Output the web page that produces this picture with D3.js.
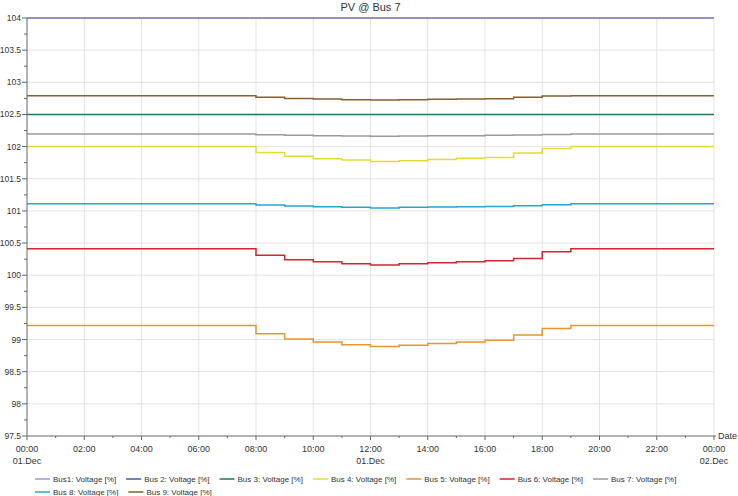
<!DOCTYPE html>
<html>
<head>
<meta charset="utf-8">
<script src="https://cdn.jsdelivr.net/npm/d3@7"></script>
<style>
  body { margin: 0; background: #fff; }
  text { font-family: "Liberation Sans", Arial, sans-serif; fill: #333; }
</style>
</head>
<body>
<svg id="chart" width="738" height="496"></svg>
<script>
// step times (hours after 01.Dec 00:00), value holds until next time
const stepHours = [0, 8, 9, 10, 11, 12, 13, 14, 15, 16, 17, 18, 19, 24]

const bus1 = [104, 104, 104, 104, 104, 104, 104, 104, 104, 104, 104, 104, 104, 104]
const bus2 = [104, 104, 104, 104, 104, 104, 104, 104, 104, 104, 104, 104, 104, 104]
const bus3 = [102.5, 102.5, 102.5, 102.5, 102.5, 102.5, 102.5, 102.5, 102.5, 102.5, 102.5, 102.5, 102.5, 102.5]
const bus4 = [102.0, 101.91, 101.85, 101.81, 101.79, 101.77, 101.78, 101.80, 101.82, 101.83, 101.90, 101.97, 102.0, 102.0]
const bus5 = [99.22, 99.09, 99.01, 98.96, 98.92, 98.89, 98.91, 98.94, 98.96, 98.99, 99.07, 99.17, 99.22, 99.22]
const bus6 = [100.41, 100.31, 100.24, 100.21, 100.18, 100.16, 100.18, 100.195, 100.21, 100.225, 100.26, 100.365, 100.41, 100.41]
const bus7 = [102.196, 102.185, 102.176, 102.17, 102.165, 102.16, 102.165, 102.17, 102.17, 102.176, 102.18, 102.19, 102.196, 102.196]
const bus8 = [101.112, 101.092, 101.076, 101.065, 101.056, 101.045, 101.056, 101.06, 101.065, 101.07, 101.08, 101.096, 101.112, 101.112]
const bus9 = [102.79, 102.767, 102.75, 102.74, 102.73, 102.725, 102.73, 102.735, 102.74, 102.745, 102.767, 102.787, 102.79, 102.79]

const seriesNames = ['Bus1: Voltage [%]', 'Bus 2: Voltage [%]', 'Bus 3: Voltage [%]', 'Bus 4: Voltage [%]',
  'Bus 5: Voltage [%]', 'Bus 6: Voltage [%]', 'Bus 7: Voltage [%]', 'Bus 8: Voltage [%]', 'Bus 9: Voltage [%]']
const seriesValues = [bus1, bus2, bus3, bus4, bus5, bus6, bus7, bus8, bus9]
const seriesColors = ['#a893d2', '#3b5aa6', '#1f7a4c', '#e4dc2e', '#e6952f', '#d2262f', '#9a9a9a', '#22a6d6', '#8c5d2e']

const yTicks = [97.5, 98, 98.5, 99, 99.5, 100, 100.5, 101, 101.5, 102, 102.5, 103, 103.5, 104]
const title = 'PV @ Bus 7'

const W = 738
const H = 496
const margin = { top: 18, right: 24, bottom: 60, left: 27 }
const svg = d3.select('#chart')

const t0 = Date.UTC(2023, 11, 1)
const hourToDate = (h) => new Date(t0 + h * 3600 * 1000)

const x = d3.scaleUtc()
  .domain([hourToDate(0), hourToDate(24)])
  .range([margin.left, W - margin.right])
const y = d3.scaleLinear()
  .domain([97.5, 104])
  .range([H - margin.bottom, margin.top])

const gridColor = '#e3e3e3'
const axisColor = '#666'

// grid
const xMajor = d3.range(0, 25, 2).map(hourToDate)
const xMinor = d3.range(1, 24, 2).map(hourToDate)
svg.append('g').selectAll('line').data(xMajor.slice(1)).join('line')
  .attr('x1', d => x(d)).attr('x2', d => x(d))
  .attr('y1', margin.top).attr('y2', H - margin.bottom)
  .attr('stroke', gridColor)
svg.append('g').selectAll('line').data(yTicks.slice(1)).join('line')
  .attr('x1', margin.left).attr('x2', W - margin.right)
  .attr('y1', d => y(d)).attr('y2', d => y(d))
  .attr('stroke', gridColor)

// lines
const line = d3.line()
  .x((d, i) => x(hourToDate(stepHours[i])))
  .y(d => y(d))
  .curve(d3.curveStepAfter)

// draw bus 2 under bus 1
const order = [1, 0, 2, 3, 4, 5, 6, 7, 8]
order.forEach(k => {
  svg.append('path')
    .attr('d', line(seriesValues[k]))
    .attr('fill', 'none')
    .attr('stroke', seriesColors[k])
    .attr('stroke-width', 1.5)
})

// y axis
const yAxis = svg.append('g')
  .attr('transform', `translate(${margin.left},0)`)
yAxis.append('line')
  .attr('x1', 0).attr('x2', 0)
  .attr('y1', margin.top).attr('y2', H - margin.bottom)
  .attr('stroke', axisColor)
yAxis.selectAll('.ymaj').data(yTicks).join('line')
  .attr('x1', -5).attr('x2', 0)
  .attr('y1', d => y(d)).attr('y2', d => y(d))
  .attr('stroke', axisColor)
yAxis.selectAll('.ymin').data(yTicks.slice(1).map(v => v - 0.25)).join('line')
  .attr('x1', -3).attr('x2', 0)
  .attr('y1', d => y(d)).attr('y2', d => y(d))
  .attr('stroke', axisColor)
yAxis.selectAll('text').data(yTicks).join('text')
  .attr('x', -6)
  .attr('y', d => y(d) + 3)
  .attr('text-anchor', 'end')
  .attr('font-size', 8.5)
  .text(d => d)

// x axis
const xAxisY = H - margin.bottom
const xAxis = svg.append('g')
xAxis.append('line')
  .attr('x1', margin.left).attr('x2', W - margin.right + 2)
  .attr('y1', xAxisY).attr('y2', xAxisY)
  .attr('stroke', axisColor)
xAxis.selectAll('.xmaj').data(xMajor).join('line')
  .attr('x1', d => x(d)).attr('x2', d => x(d))
  .attr('y1', xAxisY).attr('y2', xAxisY + 4)
  .attr('stroke', axisColor)
xAxis.selectAll('.xmin').data(xMinor).join('line')
  .attr('x1', d => x(d)).attr('x2', d => x(d))
  .attr('y1', xAxisY).attr('y2', xAxisY + 2)
  .attr('stroke', axisColor)
const fmtTime = d3.utcFormat('%H:%M')
const fmtDay = d3.utcFormat('%d.%b')
xAxis.selectAll('.xlab').data(xMajor).join('text')
  .attr('x', d => x(d))
  .attr('y', xAxisY + 16)
  .attr('text-anchor', 'middle')
  .attr('font-size', 9)
  .text(d => fmtTime(d))
xAxis.selectAll('.xday').data(xMajor.filter(d => d.getUTCHours() === 0 || d.getUTCHours() === 12)).join('text')
  .attr('x', d => x(d))
  .attr('y', xAxisY + 28)
  .attr('text-anchor', 'middle')
  .attr('font-size', 9)
  .text(d => fmtDay(d))
svg.append('text')
  .attr('x', W - margin.right + 4)
  .attr('y', xAxisY + 3)
  .attr('font-size', 9)
  .text('Date')

// title
svg.append('text')
  .attr('x', (margin.left + W - margin.right) / 2)
  .attr('y', 11)
  .attr('text-anchor', 'middle')
  .attr('font-size', 11)
  .text(title)

// legend, flowing left to right
const legend = svg.append('g')
let lx = 35
let ly = 479
seriesNames.forEach((name, k) => {
  const g = legend.append('g')
  g.append('line')
    .attr('x1', 0).attr('x2', 15)
    .attr('y1', 0).attr('y2', 0)
    .attr('stroke', seriesColors[k])
    .attr('stroke-width', 1.5)
  const t = g.append('text')
    .attr('x', 18)
    .attr('y', 3)
    .attr('font-size', 8)
    .text(name)
  const w = 18 + t.node().getComputedTextLength() + 10
  if (lx + w > W - 20) {
    lx = 35
    ly += 13
  }
  g.attr('transform', `translate(${lx},${ly})`)
  lx += w
})
</script>
</body>
</html>
